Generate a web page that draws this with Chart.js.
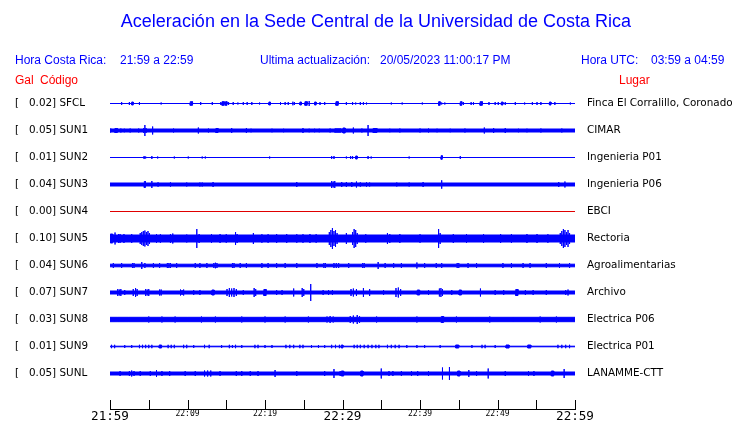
<!DOCTYPE html>
<html>
<head>
<meta charset="utf-8">
<script src="https://cdn.jsdelivr.net/npm/chart.js@4.4.0/dist/chart.umd.min.js"></script>
<style>
  body { margin: 0; background: #fff; }
  #wrap { position: relative; width: 740px; height: 423px; overflow: hidden; }
  #wrap canvas { position: absolute; left: 0; top: 0; }
  .hd { position: absolute; font-family: 'Liberation Sans', Arial, sans-serif; white-space: pre; line-height: 1; }
  .blue { color: #0000ff; }
  .red { color: #ff0000; }
</style>
</head>
<body>
<div id="wrap">
  <canvas id="seis" width="740" height="423"></canvas>
  <div class="hd blue" style="left:0;width:752px;text-align:center;top:12px;font-size:18px;">Aceleración en la Sede Central de la Universidad de Costa Rica</div>
  <div class="hd blue" style="left:15px;top:54px;font-size:12px;">Hora Costa Rica:</div>
  <div class="hd blue" style="left:120px;top:54px;font-size:12px;">21:59 a 22:59</div>
  <div class="hd blue" style="left:260px;top:54px;font-size:12px;">Ultima actualización:</div>
  <div class="hd blue" style="left:380px;top:54px;font-size:12px;">20/05/2023 11:00:17 PM</div>
  <div class="hd blue" style="left:581px;top:54px;font-size:12px;">Hora UTC:</div>
  <div class="hd blue" style="left:651px;top:54px;font-size:12px;">03:59 a 04:59</div>
  <div class="hd red" style="left:15px;top:74px;font-size:12px;">Gal</div>
  <div class="hd red" style="left:40px;top:74px;font-size:12px;">Código</div>
  <div class="hd red" style="left:619px;top:74px;font-size:12px;">Lugar</div>
</div>
<script>
// Stations, top to bottom
const stationCodes = ['SFCL', 'SUN1', 'SUN2', 'SUN3', 'SUN4', 'SUN5', 'SUN6', 'SUN7', 'SUN8', 'SUN9', 'SUNL'];
const peakGal = [0.02, 0.05, 0.01, 0.04, 0.00, 0.10, 0.04, 0.07, 0.03, 0.01, 0.05];
const placeNames = ['Finca El Corralillo, Coronado', 'CIMAR', 'Ingenieria P01', 'Ingenieria P06', 'EBCI',
    'Rectoria', 'Agroalimentarias', 'Archivo', 'Electrica P06', 'Electrica P01', 'LANAMME-CTT'];

// time axis: minutes after 21:59
const timeLabels = ['21:59', '22:09', '22:19', '22:29', '22:39', '22:49', '22:59'];

// steady background amplitude of each trace
const baseAmp = [0, 1.5, 0, 1.5, 0, 3.5, 1.3, 1.5, 2.2, 0.3, 1.5];

// bursts: [minute, amplitude, duration in minutes]
const sfclBursts = [[1.5, 2], [2.5, 2], [2.9, 2, 0.2], [3.8, 2], [6.6, 1.5], [10.5, 2.3, 0.3], [11.7, 2], [13.2, 2],
    [14.3, 2], [14.6, 2.3, 0.3], [15.0, 2.3, 0.2], [15.3, 2], [15.9, 2], [16.5, 1.5], [17.2, 2], [17.7, 2], [18.3, 2],
    [19.3, 1.5], [20.6, 2, 0.2], [22.0, 2], [22.6, 2], [23.0, 2], [23.6, 2.3], [23.8, 2], [24.6, 2, 0.2],
    [25.3, 2.3, 0.3], [25.7, 3], [26.5, 2, 0.2], [27.1, 2], [27.7, 2], [29.3, 2.3, 0.3], [30.5, 2], [31.3, 2],
    [31.7, 1.5], [32.3, 2], [32.7, 2], [33.1, 1.5], [36.3, 1.5], [37.7, 1.5], [40.3, 1.5], [42.5, 2.3, 0.2], [42.8, 1.5],
    [43.2, 1.5], [45.3, 2.3, 0.2], [45.6, 2], [46.6, 2], [46.9, 2], [47.9, 2.3, 0.3], [48.9, 2], [49.7, 2], [50.1, 2],
    [50.6, 2, 0.2], [51.0, 2], [52.3, 2], [53.5, 1.5], [54.5, 2], [55.1, 2], [55.6, 2], [56.8, 2, 0.2],
    [57.4, 2], [59.4, 1.5]];
const sun1Bursts = [[0.1, 2.5], [0.8, 2.5, 0.35], [1.4, 2.5], [1.85, 2.3], [2.6, 2.5], [3.7, 2.5], [4.35, 3], [4.5, 6],
    [4.65, 3], [5.5, 4.5], [8.2, 2.5], [11.4, 3.5], [12.7, 2.5], [13.8, 2.5, 0.3], [15.7, 3], [17.6, 3], [18.2, 2.3],
    [20.9, 2.3], [22.4, 2.3], [24.9, 3], [25.7, 2.3], [26.4, 2.3], [27.0, 2.3], [28.4, 2.5], [29.4, 2.3, 0.8],
    [30.2, 3, 0.3], [31.4, 3.5], [32.5, 2.5], [33.3, 6], [34.2, 2.5, 0.5], [36.1, 2.3], [37.4, 2.5], [40.0, 2.5],
    [41.1, 2.5], [42.2, 2.3], [43.9, 2.3], [45.8, 2.5], [48.3, 3.5], [49.5, 3], [51.0, 3], [52.7, 2.3], [53.8, 2.3],
    [55.6, 2.5], [58.3, 2.5]];
const sun2Bursts = [[4.4, 2], [4.6, 1.5], [5.4, 2], [6.15, 1.5], [8.3, 1.5], [10.1, 1.5], [11.9, 1.5], [12.3, 1.5], [20.6, 1.5],
    [28.6, 2], [28.9, 2], [30.5, 1.5], [31.05, 2], [31.3, 2], [31.8, 2, 0.2], [33.3, 2], [33.7, 1.5], [38.6, 1.5],
    [42.8, 2.3, 0.15], [45.2, 2]];
const sun3Bursts = [[4.5, 3.5, 0.15], [5.4, 4], [6.2, 2.7], [7.8, 2.7], [9.9, 2.5], [11.6, 2.5], [11.9, 2.5], [13.3, 3],
    [24.1, 3], [28.6, 4], [28.8, 3.5], [29.0, 4], [29.9, 3], [30.5, 3], [31.2, 3], [31.8, 3.5], [32.3, 2.7], [33.1, 2.7],
    [33.5, 2.5], [37.0, 2.5], [38.6, 2.5], [40.4, 3], [42.8, 4.7], [57.9, 3], [58.7, 3.5]];
const sun4Bursts = [];
const sun5Bursts = [[0.2, 5, 0.3], [0.65, 6.5], [1.1, 5], [1.3, 5], [1.8, 5], [2.8, 5], [3.9, 6], [4.1, 7], [4.3, 8],
    [4.5, 8.5], [4.7, 7], [4.9, 8], [5.1, 6], [6.0, 5], [6.5, 4.8], [7.8, 5], [8.1, 5.5], [9.9, 4.5], [11.2, 10],
    [11.5, 5], [13.1, 5], [14.2, 5], [15.0, 4.8], [16.2, 7], [16.4, 5], [18.5, 6], [19.6, 4.8], [20.4, 4.8], [21.5, 5],
    [22.8, 5], [24.1, 4.8], [24.9, 4.8], [25.8, 5], [26.6, 4.8], [28.3, 7], [28.5, 9], [28.7, 11], [28.9, 8], [29.1, 9],
    [29.3, 6], [30.5, 6], [31.3, 7], [31.5, 10], [31.7, 9], [31.9, 6], [33.0, 4.8], [35.8, 6], [36.1, 5], [37.4, 5],
    [40.0, 4.8], [42.4, 10], [42.6, 6], [44.3, 5], [46.0, 5], [48.2, 5], [50.4, 5], [51.8, 5], [53.8, 5], [55.1, 5],
    [56.5, 4.8], [58.1, 6], [58.3, 8], [58.5, 10], [58.7, 9], [58.9, 7], [59.1, 9], [59.3, 6]];
const sun6Bursts = [[0.43, 3], [1.5, 3], [2.9, 3], [3.1, 3], [4.1, 4], [4.5, 3], [5.6, 3], [6.4, 3], [7.4, 3], [7.6, 3],
    [7.8, 3], [8.6, 3], [11.0, 3], [11.6, 3], [12.5, 3], [13.4, 3], [13.6, 3.3], [13.8, 3], [15.8, 3], [16.0, 3],
    [16.8, 3], [17.6, 3], [19.6, 3], [20.4, 3], [21.5, 3], [22.6, 3], [24.1, 3], [26.7, 3], [27.6, 3], [27.8, 3],
    [28.9, 3], [29.2, 3], [29.5, 3], [30.8, 3], [32.6, 3], [32.8, 3], [34.6, 4], [35.5, 3], [36.6, 3], [37.6, 3],
    [39.6, 3.5], [40.6, 3], [42.1, 3], [42.8, 3], [44.8, 3], [45.0, 3], [46.2, 3], [47.3, 3], [50.7, 3], [51.8, 3],
    [53.3, 3], [54.2, 3], [56.3, 3], [58.0, 3], [59.3, 3]];
const sun7Bursts = [[1.0, 4], [1.2, 3.5], [1.4, 4], [1.9, 3], [3.0, 4], [3.3, 5], [3.5, 4], [4.6, 4], [4.8, 3.5], [5.0, 4],
    [6.4, 3.5], [6.6, 3.5], [9.1, 3.5], [9.3, 3], [9.5, 3.5], [10.8, 3], [11.6, 3], [13.3, 3, 0.3], [15.1, 4], [15.4, 5],
    [15.7, 4.5], [16.0, 5], [16.3, 4], [17.2, 3], [18.6, 5], [18.8, 4], [20.0, 3.5, 0.3], [21.5, 3], [22.2, 3],
    [23.7, 4.5], [24.8, 5], [25.0, 4], [25.9, 9], [27.5, 3], [28.2, 3], [28.7, 3], [31.1, 4], [31.4, 4.5], [31.8, 4],
    [32.7, 5], [33.5, 4], [35.3, 3], [36.9, 5], [37.2, 5.5], [37.5, 4], [39.8, 3, 0.3], [41.1, 3], [42.5, 4.5],
    [42.7, 5], [42.9, 4], [44.1, 3], [45.2, 3, 0.3], [47.8, 4.5], [49.7, 3], [50.8, 3], [52.5, 3.5, 0.3], [53.6, 3],
    [54.6, 3], [56.3, 3], [58.8, 3], [59.1, 3.5]];
const sun8Bursts = [[1.0, 3], [2.4, 3], [5.0, 3.5], [6.7, 3.5], [8.4, 3.5], [10.0, 3], [11.8, 3.5], [13.6, 3.5], [15.3, 3],
    [17.0, 3.5], [20.0, 3.5], [22.6, 3.5], [25.6, 3.5], [28.0, 3.5], [28.4, 4], [28.8, 3.5], [31.0, 4], [31.4, 4.5],
    [31.9, 5], [32.2, 4], [34.4, 3.5], [37.0, 3], [39.6, 3.5], [42.9, 3.5, 0.3], [44.7, 3.5], [47.0, 3], [49.0, 3.5],
    [52.0, 3], [55.5, 3.5], [57.6, 3.5]];
const sun9Bursts = [[0.2, 2.2], [0.6, 2.2], [1.9, 2], [2.8, 2], [3.8, 2.2], [4.2, 2.2], [4.6, 2.2], [5.0, 2.2],
    [5.4, 2.2], [6.5, 2, 0.3], [7.5, 2.2], [7.9, 2.2], [8.3, 2.2], [9.5, 2.2], [9.9, 2.2], [10.8, 2], [12.2, 2.2],
    [12.8, 2.2], [14.4, 2], [15.4, 2.2], [15.8, 2], [16.2, 2.2], [17.0, 2], [18.7, 2.2], [19.1, 2.2], [20.0, 2],
    [20.9, 2], [22.7, 2.2], [23.2, 2.2], [23.7, 2.2], [24.5, 2.2], [24.9, 2.2], [26.0, 2], [26.9, 2], [27.7, 2],
    [28.6, 2.2], [29.1, 2.2], [29.6, 2.2], [29.95, 2, 0.2], [31.5, 2.2], [31.9, 2.2], [32.3, 2.2], [32.8, 2.2],
    [33.3, 2.2], [33.8, 2.2], [34.3, 2.2], [34.7, 2.2], [35.8, 2.2], [36.3, 2.2], [36.8, 2.2], [37.3, 2.2], [38.3, 2],
    [39.6, 2], [40.6, 2], [42.6, 2], [44.8, 2, 0.4], [46.7, 2], [48.0, 2.2], [48.4, 2.2], [49.7, 2],
    [51.3, 2, 0.4], [54.1, 2, 0.4], [57.8, 2.2], [58.3, 2.2], [58.8, 2.2], [59.3, 2.2]];
const sunlBursts = [[1.3, 3], [2.5, 3], [2.8, 3.5], [3.1, 3], [3.9, 3], [5.2, 3], [6.0, 4], [6.7, 3], [7.7, 3], [9.7, 3],
    [11.0, 3], [12.2, 3.5], [12.6, 3.5], [13.0, 3.5], [14.2, 3], [16.3, 3], [17.0, 3], [18.1, 3], [19.1, 3], [21.3, 4],
    [24.1, 3], [27.7, 3], [28.9, 5], [29.7, 3], [30.0, 3, 0.3], [32.5, 3, 0.3], [35.0, 5.5], [36.0, 3], [36.5, 3],
    [37.6, 3], [38.9, 3], [39.7, 3], [41.1, 3], [42.9, 6.5], [43.8, 7], [45.0, 3, 0.3], [46.3, 4], [47.3, 3], [48.8, 5.5],
    [51.0, 3], [54.0, 3], [54.7, 3], [57.1, 3, 0.3], [58.6, 5]];

const allBursts = [sfclBursts, sun1Bursts, sun2Bursts, sun3Bursts, sun4Bursts, sun5Bursts,
    sun6Bursts, sun7Bursts, sun8Bursts, sun9Bursts, sunlBursts];

// vertical layout of the traces
const rowGap = 27;
const rowOffsets = stationCodes.map((_, i) => 305.5 - rowGap * i);
const traceColors = stationCodes.map(c => c === 'SUN4' ? '#e00000' : '#0000ff');

// Build upper and lower envelope of one trace (the 1px outline adds half a unit)
function buildEnvelope(offset, base, bursts) {
    const ev = bursts.slice().sort((a, b) => a[0] - b[0]);
    const up = [{ x: 0, y: offset + base }];
    const lo = [{ x: 0, y: offset - base }];
    ev.forEach(([t, amp, w = 0]) => {
        const a = Math.max(base, amp - 0.5);
        const t0 = t - w / 2, t1 = t + w / 2;
        up.push({ x: t0, y: offset + base }, { x: t0, y: offset + a }, { x: t1, y: offset + a }, { x: t1, y: offset + base });
        lo.push({ x: t0, y: offset - base }, { x: t0, y: offset - a }, { x: t1, y: offset - a }, { x: t1, y: offset - base });
    });
    up.push({ x: 60, y: offset + base });
    lo.push({ x: 60, y: offset - base });
    return [up, lo];
}

const datasets = [];
stationCodes.forEach((code, i) => {
    const [up, lo] = buildEnvelope(rowOffsets[i], baseAmp[i], allBursts[i]);
    datasets.push({
        label: code + ' +', data: up, borderColor: traceColors[i], borderWidth: 1,
        pointRadius: 0, fill: false, tension: 0
    });
    datasets.push({
        label: code + ' -', data: lo, borderColor: traceColors[i], backgroundColor: traceColors[i], borderWidth: 1,
        pointRadius: 0, fill: '-1', tension: 0
    });
});

// tick marks pointing up from the time axis
const upTicks = {
    id: 'upTicks',
    afterDraw(chart) {
        const xs = chart.scales.x;
        const ctx = chart.ctx;
        const y0 = Math.round(chart.chartArea.bottom);
        ctx.save();
        ctx.strokeStyle = '#000';
        ctx.lineWidth = 1;
        xs.ticks.forEach(t => {
            const px = Math.round(xs.getPixelForValue(t.value)) + 0.5;
            ctx.beginPath();
            ctx.moveTo(px, y0);
            ctx.lineTo(px, y0 - 9);
            ctx.stroke();
        });
        ctx.restore();
    }
};

const labelFont = { family: 'DejaVu Sans', size: 10.4 };

new Chart(document.getElementById('seis').getContext('2d'), {
    type: 'line',
    data: { datasets: datasets },
    options: {
        responsive: false,
        animation: false,
        devicePixelRatio: 1,
        layout: { padding: { top: 88, left: 15, right: 0, bottom: 0 } },
        plugins: { legend: { display: false }, tooltip: { enabled: false } },
        scales: {
            x: {
                type: 'linear', position: 'bottom', min: 0, max: 60, offset: false,
                grid: { display: false, drawTicks: false },
                border: { display: true, color: '#000', width: 1 },
                afterFit: s => { s.height = 14; },
                ticks: {
                    stepSize: 5, autoSkip: false, maxRotation: 0, padding: 1, color: '#000',
                    font: c => (c.tick && c.tick.value % 30 === 0)
                        ? { family: 'DejaVu Sans Mono', size: 12.6, lineHeight: 1 }
                        : { family: 'DejaVu Sans Mono', size: 8, lineHeight: 1 },
                    callback: v => v % 10 === 0 ? timeLabels[v / 10] : ''
                }
            },
            y: {
                position: 'left', min: 0, max: 321,
                grid: { display: false, drawTicks: false },
                border: { display: false },
                afterFit: s => { s.width = 95; },
                afterBuildTicks: s => { s.ticks = rowOffsets.map(v => ({ value: v })); },
                ticks: {
                    autoSkip: false, crossAlign: 'far', padding: 1, color: '#000', font: labelFont,
                    callback: v => {
                        const i = rowOffsets.indexOf(v);
                        return '[   ' + peakGal[i].toFixed(2) + '] ' + stationCodes[i];
                    }
                }
            },
            y2: {
                position: 'right', min: 0, max: 321,
                grid: { display: false, drawTicks: true, tickLength: 11 },
                border: { display: false },
                afterFit: s => { s.width = 165; },
                afterBuildTicks: s => { s.ticks = rowOffsets.map(v => ({ value: v })); },
                ticks: {
                    autoSkip: false, padding: 1, color: '#000', font: labelFont,
                    callback: v => placeNames[rowOffsets.indexOf(v)]
                }
            }
        }
    },
    plugins: [upTicks]
});
</script>
</body>
</html>
